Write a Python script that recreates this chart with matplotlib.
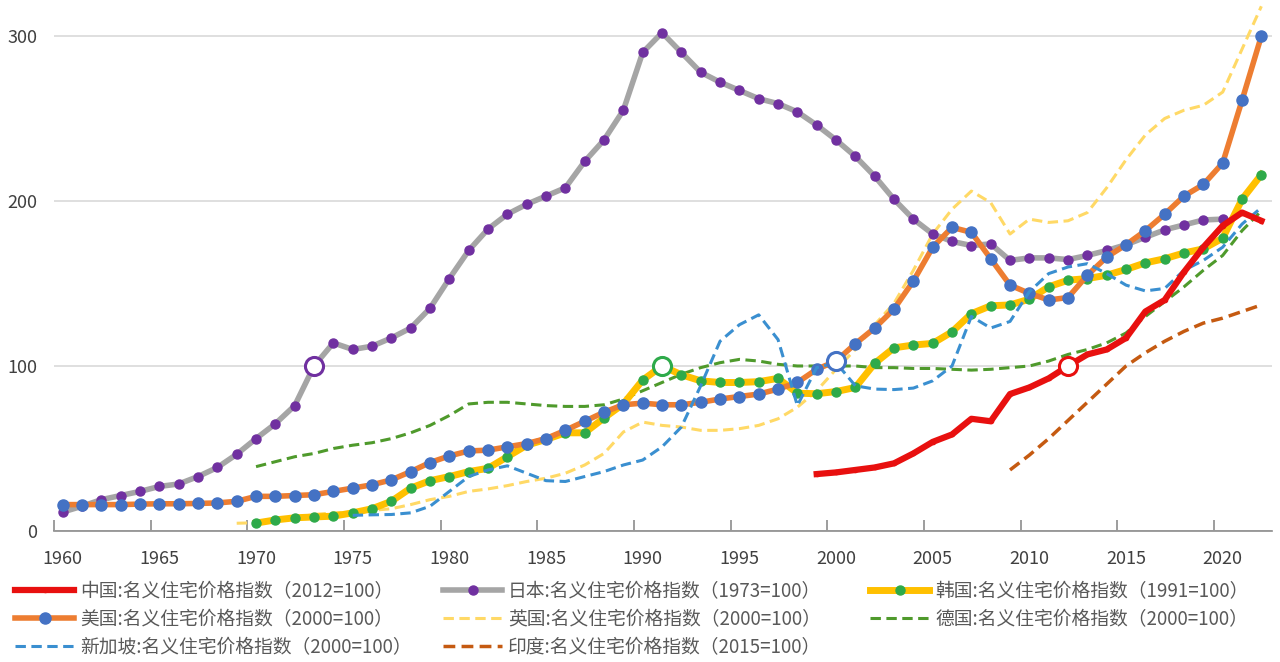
import numpy as np
import matplotlib
matplotlib.use('Agg')
import matplotlib.pyplot as plt

plt.rcParams['font.family'] = ['Noto Sans CJK SC', 'DejaVu Sans']

# data (index values)
years_jp = list(range(1960, 2021))
japan = [11.5, 15, 19, 21.5, 24, 27, 28.5, 33, 38.5, 46.5,
         56, 65, 76, 100, 114, 110, 112, 117, 123, 135,
         153, 170, 183, 192, 198, 203, 208, 224, 237, 255,
         290, 302, 290, 278, 272, 267, 262, 259, 254, 246,
         237, 227, 215, 201, 189, 180, 175.5, 173, 174, 164,
         165.5, 165.5, 164.5, 167, 170, 173.5, 178, 182.5, 185.5, 188.5,
         189]

years_us = list(range(1960, 2023))
usa = [16, 16, 16, 16, 16.3, 16.5, 16.5, 16.7, 17, 18,
       21, 21, 21.5, 22, 24, 26, 28, 31, 36, 41.5,
       45.5, 48.5, 49, 51, 53, 56, 61, 66.5, 72, 76.5,
       77.5, 76.5, 76.5, 78, 80, 81.5, 83, 86, 90, 98,
       103, 113.5, 123, 134.5, 151.5, 172, 184, 181, 165, 149,
       144, 140, 141.5, 155, 166, 173.5, 182, 192, 203, 210,
       223, 261, 300]

years_kr = list(range(1970, 2023))
korea = [4.8, 6.7, 8, 8.5, 9, 11, 13.5, 18, 26, 30.5,
         33, 36, 38, 45, 52, 55.5, 59.5, 59.5, 68.5, 77,
         91.5, 100, 94.7, 91, 90, 90, 90.5, 92.5, 83.5, 83.2,
         84.5, 87, 101.6, 111, 112.7, 113.7, 120.7, 131.7, 136.5, 137,
         140.5, 148, 152, 153, 155, 158.5, 162.5, 165, 168.5, 171,
         177.5, 201, 216]

years_uk = list(range(1969, 2023))
uk = [4.7,
      5, 6, 8, 10, 11, 11.5, 12.5, 13.5, 16, 19,
      21, 24, 25.5, 27.5, 30, 32, 35, 40, 47, 60,
      66, 64, 63, 61, 61, 62, 64, 68, 75, 85,
      98, 110, 125, 138, 158, 180, 195, 206, 199, 180,
      189, 187, 188, 193, 208, 225, 240, 250, 255, 258,
      266, 292, 318]

years_de = list(range(1970, 2023))
germany = [39, 42, 45, 47, 50, 52, 53.5, 56, 59.5, 64,
           70, 77, 78, 78, 77, 76, 75.5, 75.5, 76.5, 80,
           85, 90, 95, 99, 102, 104, 103, 101, 100, 100,
           100, 100, 99, 99, 98.5, 98.5, 98, 97.5, 98, 99,
           100, 103, 107, 110, 114, 120, 130, 139, 148, 158,
           167, 182, 194]

years_sg = list(range(1975, 2023))
singapore = [9.5, 9.8, 10, 11, 15,
             24, 33, 37, 39.5, 35, 30.5, 30, 33, 36, 40,
             43, 51, 63, 88, 115, 125, 131, 116, 76, 99,
             102, 88, 86, 85.7, 86.6, 91, 100, 130, 123, 127,
             145, 156, 160, 162, 156, 149, 145.5, 147, 158, 164,
             172, 186, 196]

years_in = list(range(2009, 2023))
india = [37, 46, 56, 67, 78, 89, 100, 108, 115, 121, 126, 129, 133, 137]

years_cn = list(range(1999, 2023))
china = [34.5, 35.5, 37, 38.5, 41, 47, 54, 58.5, 68, 66.5,
         83, 87, 92.5, 100, 107, 110, 117, 133, 140, 157,
         172, 185, 193, 188]

labels = {
    'cn': '中国:名义住宅价格指数（2012=100）',
    'us': '美国:名义住宅价格指数（2000=100）',
    'sg': '新加坡:名义住宅价格指数（2000=100）',
    'jp': '日本:名义住宅价格指数（1973=100）',
    'uk': '英国:名义住宅价格指数（2000=100）',
    'in': '印度:名义住宅价格指数（2015=100）',
    'kr': '韩国:名义住宅价格指数（1991=100）',
    'de': '德国:名义住宅价格指数（2000=100）',
}

off = 0.45  # points (and year labels) sit in the middle of each year slot
dash = (3.4, 1.8)


def xs(yrs):
    return np.array(yrs) + off


fig = plt.figure(figsize=(12.8, 6.62), dpi=100)
ax = fig.add_axes([54 / 1280, 131 / 662, 1218 / 1280, 531 / 662])

# dashed series
l_de, = ax.plot(xs(years_de), germany, '--', color='#4f9a2c', lw=2.2, dashes=dash, zorder=3)
l_in, = ax.plot(xs(years_in), india, '--', color='#c55a11', lw=2.5, dashes=dash, zorder=3)
l_uk, = ax.plot(xs(years_uk), uk, '--', color='#ffd966', lw=2.2, dashes=dash, zorder=3)

# solid series with markers
l_jp, = ax.plot(xs(years_jp), japan, '-', color='#a5a5a5', lw=4, marker='o', ms=6.5,
                mfc='#7030a0', mec='#7030a0', zorder=4)
l_kr, = ax.plot(xs(years_kr), korea, '-', color='#ffc000', lw=5, marker='o', ms=6.5,
                mfc='#2eaa4a', mec='#2eaa4a', zorder=5)
l_us, = ax.plot(xs(years_us), usa, '-', color='#ed7d31', lw=4, marker='o', ms=8,
                mfc='#4472c4', mec='#4472c4', zorder=6)
l_sg, = ax.plot(xs(years_sg), singapore, '--', color='#3a8fd0', lw=2.2, dashes=dash, zorder=6.5)
l_cn, = ax.plot(xs(years_cn), china, '-', color='#e8100f', lw=4.5, marker='o', ms=3,
                mfc='#e8100f', mec='#e8100f', zorder=7)

# base-year hollow markers
bases = [(years_jp, japan, 1973, '#7030a0'),
         (years_kr, korea, 1991, '#2eaa4a'),
         (years_us, usa, 2000, '#4472c4'),
         (years_cn, china, 2012, '#e8100f')]
for yrs, vals, b, c in bases:
    i = yrs.index(b)
    ax.plot(b + off, vals[i], 'o', ms=13, mfc='white', mec=c, mew=2.2, zorder=8)

ax.set_xlim(1960, 2023)
ax.set_ylim(0, 321.8)
tick_years = list(range(1960, 2021, 5))
# tick marks on the slot boundaries, labels in the slot centres
ax.set_xticks(tick_years, minor=True)
ax.set_xticks(xs(tick_years))
ax.set_xticklabels([str(y) for y in tick_years])
ax.set_yticks([0, 100, 200, 300])
ax.tick_params(axis='x', which='minor', direction='in', length=8, width=1.2, color='#8c8c8c')
ax.tick_params(axis='x', which='major', length=0, pad=14, labelsize=13, labelcolor='#404040')
ax.tick_params(axis='y', length=0, pad=12, labelsize=13, labelcolor='#404040')
for s in ['top', 'right', 'left']:
    ax.spines[s].set_visible(False)
ax.spines['bottom'].set_color('#8c8c8c')
ax.spines['bottom'].set_linewidth(1.2)
ax.yaxis.grid(True, color='#d9d9d9', lw=1.2)
ax.set_axisbelow(True)

# legend in three columns
cols = [([l_cn, l_us, l_sg], ['cn', 'us', 'sg'], 15),
        ([l_jp, l_uk, l_in], ['jp', 'uk', 'in'], 443),
        ([l_kr, l_de], ['kr', 'de'], 870)]
for hs, keys, x0 in cols:
    fig.legend(hs, [labels[k] for k in keys], loc='upper left',
               bbox_to_anchor=(x0 / 1280, 1 - 581 / 662), frameon=False,
               fontsize=13.5, handlelength=3.15, handletextpad=0.32,
               labelspacing=0.37, borderpad=0, borderaxespad=0,
               numpoints=1, labelcolor='#595959')

fig.savefig('out.png', dpi=100)
